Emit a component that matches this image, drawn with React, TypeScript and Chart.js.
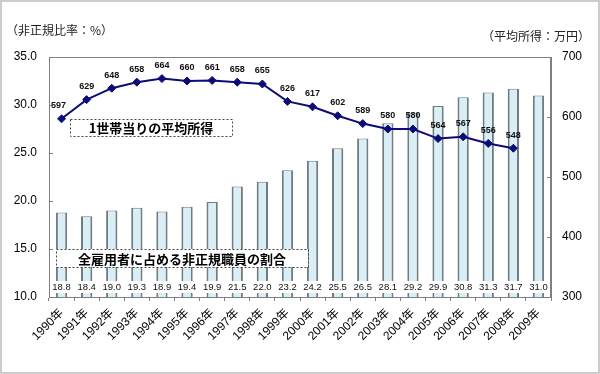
import React, { useEffect, useRef } from "react";
import { Chart, registerables } from "chart.js";

Chart.register(...registerables);

const years = [
  "1990年", "1991年", "1992年", "1993年", "1994年", "1995年", "1996年", "1997年", "1998年", "1999年",
  "2000年", "2001年", "2002年", "2003年", "2004年", "2005年", "2006年", "2007年", "2008年", "2009年",
];
const nonRegularRatio = [
  18.8, 18.4, 19.0, 19.3, 18.9, 19.4, 19.9, 21.5, 22.0, 23.2,
  24.2, 25.5, 26.5, 28.1, 29.2, 29.9, 30.8, 31.3, 31.7, 31.0,
];
const avgIncome = [
  597, 629, 648, 658, 664, 660, 661, 658, 655, 626,
  617, 602, 589, 580, 580, 564, 567, 556, 548, null,
];
const leftAxisTitle = "（非正規比率：%）";
const rightAxisTitle = "（平均所得：万円）";
const incomeLabel = "1世帯当りの平均所得";
const ratioLabel = "全雇用者に占める非正規職員の割合";

const FONT = "'Liberation Sans', 'Noto Sans CJK JP', sans-serif";
const CJK = "'Noto Sans CJK JP', 'Liberation Sans', sans-serif";

export default function App() {
  const ref = useRef<HTMLCanvasElement | null>(null);

  useEffect(() => {
    document.body.style.margin = "0";
    const canvas = ref.current;
    if (!canvas) return;

    const decor = {
      id: "decor",
      beforeDraw(chart: any) {
        const ctx = chart.ctx;
        ctx.save();
        ctx.fillStyle = "#ffffff";
        ctx.fillRect(0, 0, chart.width, chart.height);
        ctx.restore();
      },
      afterDraw(chart: any) {
        const ctx = chart.ctx;
        const a = chart.chartArea;
        const yL = chart.scales.y;
        const yR = chart.scales.y1;
        const x = chart.scales.x;
        ctx.save();
        // frame
        ctx.strokeStyle = "#808080";
        ctx.lineWidth = 1;
        ctx.strokeRect(Math.round(a.left) + 0.5, Math.round(a.top) + 0.5, Math.round(a.right - a.left) - 1, Math.round(a.bottom - a.top));
        // inward ticks
        ctx.beginPath();
        yL.ticks.forEach((t: any) => {
          const py = Math.round(yL.getPixelForValue(t.value)) + 0.5;
          ctx.moveTo(a.left, py);
          ctx.lineTo(a.left + 4, py);
        });
        yR.ticks.forEach((t: any) => {
          const py = Math.round(yR.getPixelForValue(t.value)) + 0.5;
          ctx.moveTo(a.right, py);
          ctx.lineTo(a.right - 4, py);
        });
        ctx.stroke();

        // bar value labels with white background
        ctx.font = "9.5px " + FONT;
        ctx.textAlign = "center";
        ctx.textBaseline = "middle";
        const ly = a.bottom - 10;
        nonRegularRatio.forEach((v, i) => {
          const px = x.getPixelForValue(i);
          ctx.fillStyle = "#ffffff";
          ctx.fillRect(px - 10, ly - 6, 20, 12);
          ctx.fillStyle = "#111111";
          ctx.fillText(v.toFixed(1), px, ly);
        });

        // line value labels
        const meta = chart.getDatasetMeta(1);
        ctx.font = "bold 9px " + FONT;
        meta.data.forEach((pt: any, i: number) => {
          const v = avgIncome[i];
          if (v == null) return;
          const dx = i === 0 ? -3 : 0;
          ctx.fillStyle = "#111111";
          ctx.fillText(String(v), pt.x + dx, pt.y - 13);
        });

        // annotation boxes
        const box = (x0: number, y0: number, x1: number, y1: number, text: string) => {
          ctx.fillStyle = "#ffffff";
          ctx.fillRect(x0, y0, x1 - x0, y1 - y0);
          ctx.setLineDash([2, 2]);
          ctx.strokeStyle = "#444444";
          ctx.lineWidth = 1;
          ctx.strokeRect(x0 + 0.5, y0 + 0.5, x1 - x0, y1 - y0);
          ctx.setLineDash([]);
          ctx.fillStyle = "#000000";
          ctx.font = "bold 13px " + CJK;
          ctx.textAlign = "center";
          ctx.textBaseline = "middle";
          ctx.fillText(text, (x0 + x1) / 2, (y0 + y1) / 2 + 1);
        };
        box(70, 119, 232, 136, incomeLabel);
        box(56, 249, 308, 267, ratioLabel);

        // axis titles
        ctx.font = "12px " + CJK;
        ctx.fillStyle = "#222222";
        ctx.textAlign = "left";
        ctx.textBaseline = "middle";
        ctx.fillText(leftAxisTitle, 6, 30);
        ctx.textAlign = "right";
        ctx.fillText(rightAxisTitle, 590, 36);

        // outer border
        ctx.strokeStyle = "#cccccc";
        ctx.lineWidth = 2;
        ctx.strokeRect(1, 1, chart.width - 2, chart.height - 2);
        ctx.restore();
      },
    };

    const chart = new Chart(canvas, {
      type: "bar",
      data: {
        labels: years,
        datasets: [
          {
            type: "bar",
            label: ratioLabel,
            data: nonRegularRatio,
            yAxisID: "y",
            backgroundColor: "#daeef5",
            borderColor: "#6f7c82",
            borderWidth: { left: 2, right: 2, top: 1, bottom: 0 },
            borderSkipped: false,
            categoryPercentage: 1,
            barPercentage: 0.45,
            order: 1,
          },
          {
            type: "line",
            label: incomeLabel,
            data: avgIncome,
            yAxisID: "y1",
            borderColor: "#0c0c78",
            backgroundColor: "#0c0c78",
            borderWidth: 2,
            pointStyle: "rectRot",
            pointRadius: 4,
            pointBorderWidth: 1,
            spanGaps: false,
            tension: 0,
            order: 0,
          },
        ],
      },
      options: {
        responsive: false,
        animation: false,
        events: [],
        layout: { padding: { top: 57, left: 0, right: 0, bottom: 0 } },
        plugins: { legend: { display: false }, tooltip: { enabled: false } },
        scales: {
          x: {
            offset: true,
            grid: { offset: true, drawOnChartArea: false, drawTicks: true, tickLength: 4, color: "#808080" },
            border: { color: "#808080" },
            ticks: {
              minRotation: 45,
              maxRotation: 45,
              autoSkip: false,
              color: "#000000",
              padding: 5,
              font: { size: 12, family: FONT },
            },
            afterFit: (s: any) => {
              s.height = 77;
            },
          },
          y: {
            position: "left",
            min: 10,
            max: 35,
            grid: { display: false, drawTicks: false },
            border: { color: "#808080" },
            ticks: {
              stepSize: 5,
              padding: 12,
              color: "#000000",
              font: { size: 12, family: FONT },
              callback: (v: any) => Number(v).toFixed(1),
            },
            afterFit: (s: any) => {
              s.width = 49;
            },
          },
          y1: {
            position: "right",
            min: 300,
            max: 700,
            grid: { display: false, drawTicks: false },
            border: { color: "#808080" },
            ticks: {
              stepSize: 100,
              padding: 11,
              color: "#000000",
              font: { size: 12, family: FONT },
            },
            afterFit: (s: any) => {
              s.width = 49;
            },
          },
        },
      },
      plugins: [decor],
    } as any);

    return () => chart.destroy();
  }, []);

  return (
    <div style={{ position: "absolute", left: 0, top: 0, width: 600, height: 374 }}>
      <canvas ref={ref} width={600} height={374} />
    </div>
  );
}
